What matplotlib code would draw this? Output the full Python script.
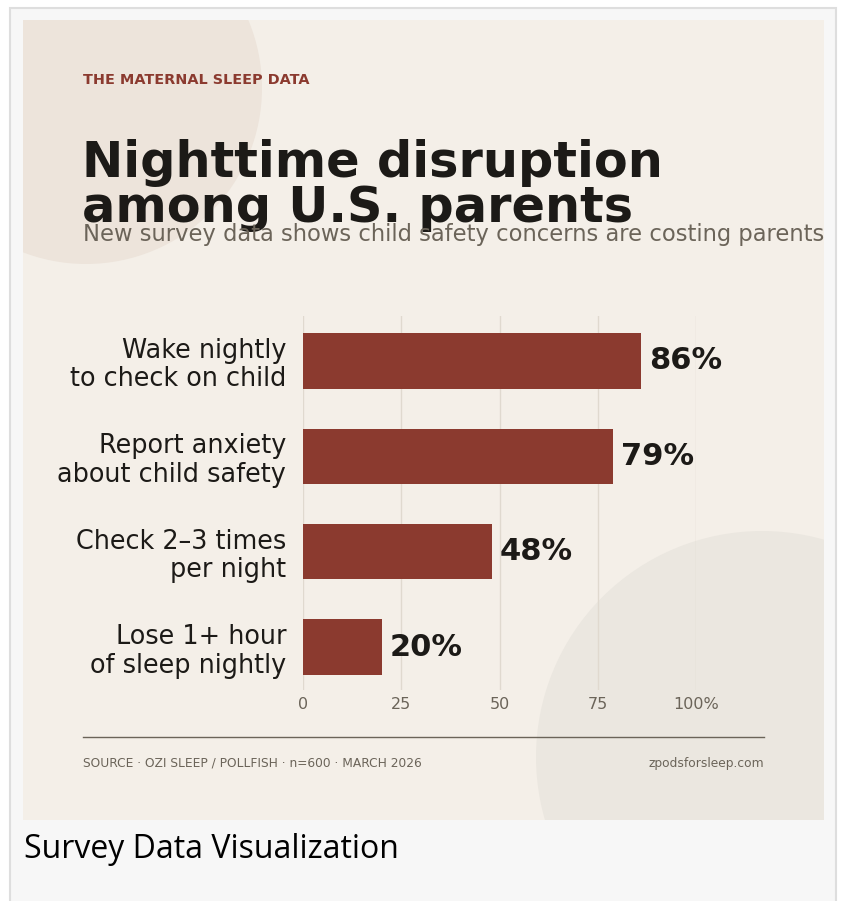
import numpy as np
import matplotlib.pyplot as plt
from matplotlib.patches import Circle, Rectangle

plt.rcParams['font.family'] = ['DejaVu Sans']

categories = ['Wake nightly\nto check on child', 'Report anxiety\nabout child safety',
              'Check 2\u20133 times\nper night', 'Lose 1+ hour\nof sleep nightly']
values = [86, 79, 48, 20]
tick_vals = [0, 25, 50, 75, 100]
tick_labels = ['0', '25', '50', '75', '100%']

W, H = 842, 901
BAR = '#8b3a2f'
INK = '#1c1a17'
MUTED = '#6b6459'
CARD = '#f4efe8'

fig = plt.figure(figsize=(W / 100, H / 100), dpi=100)
fig.patch.set_facecolor('white')

# background layer in pixel coords
bg = fig.add_axes([0, 0, 1, 1])
bg.set_xlim(0, W)
bg.set_ylim(H, 0)
bg.axis('off')
bg.add_patch(Rectangle((10, 8), 826, 900, facecolor='#f7f7f7', edgecolor='#dedede', lw=1.5))
card = Rectangle((23, 20), 801, 800, facecolor=CARD, edgecolor='none')
bg.add_patch(card)
c1 = Circle((86, 88), 176, facecolor='#ede4db', edgecolor='none')
c2 = Circle((762, 757), 226, facecolor='#ebe7e0', edgecolor='none')
for c in (c1, c2):
    bg.add_patch(c)
    c.set_clip_path(card)


def px(x, y):
    return x / W, 1 - y / H


fig.text(*px(83, 84), 'THE MATERNAL SLEEP DATA', color='#8b3a2f', fontsize=10.4,
         fontweight='bold', va='baseline')
fig.text(*px(82, 177), 'Nighttime disruption', color=INK, fontsize=35.6,
         fontweight='bold', va='baseline')
fig.text(*px(82, 222), 'among U.S. parents', color=INK, fontsize=35.6,
         fontweight='bold', va='baseline')
fig.text(*px(83, 241), 'New survey data shows child safety concerns are costing parents',
         color=MUTED, fontsize=16.3, va='baseline')

# chart
ax = fig.add_axes([303 / W, 1 - 690 / H, (696 - 303) / W, (690 - 316) / H])
ax.set_facecolor('none')
y = np.arange(len(values))
ax.barh(y, values, height=0.58, color=BAR, zorder=3)
ax.set_xlim(0, 100)
ax.set_ylim(3.45, -0.47)
for v in tick_vals:
    ax.axvline(v, color='#e0d9cf', lw=1, zorder=1)
ax.set_xticks(tick_vals)
ax.set_xticklabels(tick_labels, color=MUTED, fontsize=11.5)
ax.tick_params(axis='x', length=0, pad=5)
ax.set_yticks(y)
ax.set_yticklabels(categories, color=INK, fontsize=18.4, linespacing=1.13)
ax.tick_params(axis='y', length=0, pad=12)
for lbl in ax.get_yticklabels():
    lbl.set_horizontalalignment('right')
for s in ax.spines.values():
    s.set_visible(False)
for yi, v in zip(y, values):
    ax.text(v + 2, yi, f'{v}%', va='center', ha='left', fontsize=22,
            fontweight='bold', color=INK)

# footer
bg.plot([83, 764], [737, 737], color=MUTED, lw=1)
fig.text(*px(83, 767), 'SOURCE \u00b7 OZI SLEEP / POLLFISH \u00b7 n=600 \u00b7 MARCH 2026',
         color=MUTED, fontsize=8.85, va='baseline')
fig.text(*px(764, 767), 'zpodsforsleep.com', color=MUTED, fontsize=8.85,
         va='baseline', ha='right')

fig.text(*px(24, 858), 'Survey Data Visualization', color='black', fontsize=23,
         family='Open Sans', va='baseline')

fig.savefig('out.png', dpi=100, facecolor=fig.get_facecolor())
